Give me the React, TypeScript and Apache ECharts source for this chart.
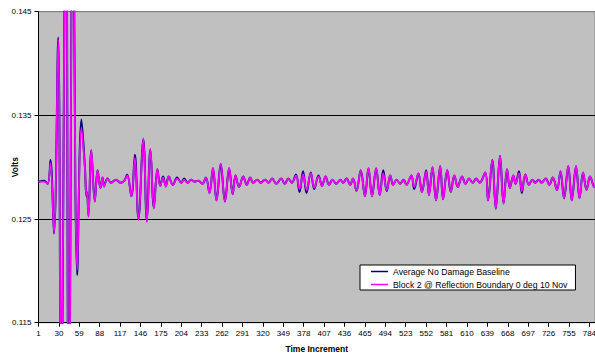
import React, { useEffect, useRef } from 'react';
import * as echarts from 'echarts';

// sample index (0-based) of the extrema
const sampleIndex = [
  0, 8, 13, 17, 22, 28, 32, 39, 43, 49, 55, 61, 66, 68, 69, 71, 75, 80, 84, 88,
  91, 93, 98, 103, 110, 117, 122, 126, 132, 137, 142, 149, 154, 159, 164, 169, 173, 177, 181, 185,
  191, 197, 203, 207, 212, 217, 222, 227, 233, 238, 243, 248, 253, 259, 265, 271, 276, 280, 285, 291,
  296, 301, 305, 311, 316, 322, 327, 332, 338, 345, 350, 355, 360, 366, 371, 376, 381, 387, 392, 398,
  403, 408, 413, 418, 423, 429, 433, 438, 443, 447, 452, 458, 464, 469, 474, 480, 485, 490, 495, 500,
  504, 509, 514, 519, 523, 530, 534, 540, 545, 551, 555, 560, 565, 571, 575, 581, 586, 591, 596, 602,
  607, 612, 617, 622, 627, 635, 639, 645, 650, 656, 661, 666, 670, 675, 678, 683, 687, 692, 697, 702,
  706, 711, 715, 721, 726, 731, 737, 742, 747, 753, 758, 764, 769, 774, 779, 784, 790, 791,
];

const baseline = [
  0.1286, 0.1287, 0.1284, 0.1307, 0.1236, 0.1425, 0.105, 0.16, 0.1, 0.156, 0.1196, 0.1346, 0.13, 0.1272, 0.1276, 0.1253, 0.1316, 0.1267, 0.1297, 0.128,
  0.129, 0.1282, 0.1289, 0.1285, 0.1288, 0.1285, 0.1287, 0.1293, 0.1272, 0.1312, 0.125, 0.1327, 0.1248, 0.1317, 0.1261, 0.1298, 0.1282, 0.1291, 0.1282, 0.1291,
  0.1283, 0.129, 0.1285, 0.1289, 0.1285, 0.1288, 0.1286, 0.1287, 0.1284, 0.129, 0.1275, 0.1299, 0.1268, 0.1303, 0.1267, 0.1299, 0.1274, 0.1292, 0.1281, 0.1291,
  0.1283, 0.129, 0.1285, 0.1288, 0.1285, 0.1288, 0.1285, 0.1289, 0.1284, 0.1289, 0.1284, 0.1289, 0.1285, 0.1293, 0.1276, 0.1296, 0.1275, 0.1295, 0.1279, 0.1292,
  0.1282, 0.1291, 0.1283, 0.1288, 0.1284, 0.1288, 0.1285, 0.1289, 0.1283, 0.1289, 0.1277, 0.1297, 0.1272, 0.1299, 0.1272, 0.1299, 0.1273, 0.1297, 0.1277, 0.1292,
  0.1283, 0.1288, 0.1284, 0.1288, 0.1283, 0.1292, 0.1279, 0.1294, 0.1276, 0.1297, 0.1273, 0.13, 0.1268, 0.1301, 0.1269, 0.1297, 0.1276, 0.1292, 0.1281, 0.1291,
  0.1284, 0.1289, 0.1285, 0.1289, 0.1285, 0.1295, 0.1268, 0.1307, 0.126, 0.1311, 0.1265, 0.1298, 0.128, 0.1292, 0.1284, 0.1296, 0.1275, 0.1293, 0.1283, 0.1288,
  0.1285, 0.1288, 0.1285, 0.1289, 0.1283, 0.129, 0.1278, 0.1296, 0.127, 0.1301, 0.1268, 0.1301, 0.127, 0.1295, 0.1278, 0.1291, 0.1281, 0.1283,
];

const block2 = [
  0.1286, 0.1286, 0.1284, 0.1304, 0.1237, 0.1423, 0.105, 0.16, 0.1, 0.156, 0.1201, 0.1338, 0.1299, 0.1273, 0.1276, 0.1252, 0.1317, 0.1267, 0.1297, 0.128,
  0.129, 0.1281, 0.1289, 0.1285, 0.1288, 0.1285, 0.1287, 0.1292, 0.1272, 0.1309, 0.1249, 0.1328, 0.1247, 0.1318, 0.126, 0.1298, 0.1282, 0.129, 0.1281, 0.1291,
  0.1283, 0.1289, 0.1285, 0.1288, 0.1285, 0.1288, 0.1286, 0.1287, 0.1284, 0.129, 0.1275, 0.1299, 0.1268, 0.1303, 0.1267, 0.1299, 0.1274, 0.1292, 0.1281, 0.1291,
  0.1283, 0.129, 0.1285, 0.1288, 0.1285, 0.1288, 0.1285, 0.1289, 0.1284, 0.1289, 0.1284, 0.1289, 0.1285, 0.1292, 0.1279, 0.1293, 0.1278, 0.1294, 0.128, 0.1291,
  0.1282, 0.1291, 0.1283, 0.1288, 0.1284, 0.1288, 0.1285, 0.1289, 0.1283, 0.1289, 0.1277, 0.1297, 0.1272, 0.1299, 0.1272, 0.1299, 0.1273, 0.1294, 0.1278, 0.1292,
  0.1283, 0.1288, 0.1284, 0.1288, 0.1283, 0.1292, 0.1281, 0.1294, 0.1276, 0.1296, 0.1273, 0.13, 0.1268, 0.1301, 0.1269, 0.1297, 0.1276, 0.1292, 0.1281, 0.1291,
  0.1284, 0.1289, 0.1285, 0.1289, 0.1285, 0.1295, 0.1268, 0.1307, 0.126, 0.1311, 0.1265, 0.1298, 0.128, 0.1292, 0.1284, 0.1294, 0.1277, 0.1293, 0.1283, 0.1288,
  0.1285, 0.1288, 0.1285, 0.1289, 0.1283, 0.129, 0.1278, 0.1296, 0.127, 0.1301, 0.1268, 0.1301, 0.127, 0.1295, 0.1278, 0.1291, 0.1281, 0.1283,
];

const seriesNames = ['Average No Damage Baseline', 'Block 2 @ Reflection Boundary 0 deg 10 Nov'];
const seriesColors = ['#000080', '#FF00FF'];
const yMin = 0.115;
const yMax = 0.145;
const yStep = 0.01;
const xStep = 29;
const lastIndex = 791;

const FONT = '"Liberation Sans", Arial, Helvetica, sans-serif';

export default function App() {
  const ref = useRef<HTMLDivElement>(null);
  useEffect(() => {
    if (!ref.current) return;
    const chart = echarts.init(ref.current, null, { renderer: 'svg' });
    const toPairs = (vals: number[]) => sampleIndex.map((x, i) => [x, vals[i]]);
    chart.setOption({
      animation: false,
      backgroundColor: '#ffffff',
      textStyle: { fontFamily: FONT, color: '#000' },
      grid: {
        left: 38.5,
        right: 0,
        top: 11.7,
        bottom: 35.3,
        containLabel: false,
        outerBoundsMode: 'none',
        show: true,
        backgroundColor: '#C0C0C0',
        borderColor: '#808080',
        borderWidth: 1,
      },
      xAxis: {
        type: 'value',
        min: 0,
        max: lastIndex,
        interval: xStep,
        name: 'Time Increment',
        nameLocation: 'middle',
        nameGap: 22,
        nameMoveOverlap: false,
        nameTextStyle: { fontFamily: FONT, fontWeight: 'bold', fontSize: 8.5, color: '#000' },
        axisLine: { onZero: false, lineStyle: { color: '#000', width: 1 } },
        axisTick: { show: true, length: 4, lineStyle: { color: '#000' } },
        axisLabel: {
          color: '#000',
          fontFamily: FONT,
          fontSize: 8,
          margin: 7,
          showMaxLabel: false,
          formatter: (v: number) => String(Math.round(v) + 1),
        },
        splitLine: { show: false },
      },
      yAxis: {
        type: 'value',
        min: yMin,
        max: yMax,
        interval: yStep,
        name: 'Volts',
        nameLocation: 'middle',
        nameGap: 19,
        nameMoveOverlap: false,
        nameTextStyle: { fontFamily: FONT, fontWeight: 'bold', fontSize: 8.5, color: '#000' },
        axisLine: { show: true, lineStyle: { color: '#000', width: 1 } },
        axisTick: { show: true, length: 4, lineStyle: { color: '#000' } },
        axisLabel: {
          color: '#000',
          fontFamily: FONT,
          fontSize: 8,
          margin: 7,
          formatter: (v: number) => v.toFixed(3),
        },
        splitLine: { show: true, lineStyle: { color: ['#000', '#000', '#000', '#808080'], width: 1 } },
      },
      legend: {
        orient: 'vertical',
        left: 360,
        top: 265,
        backgroundColor: '#ffffff',
        borderColor: '#000',
        borderWidth: 1,
        padding: [2, 8, 1, 11],
        itemGap: 4,
        itemWidth: 17,
        itemHeight: 1.5,
        icon: 'rect',
        selectedMode: false,
        textStyle: { fontFamily: FONT, fontSize: 8.7, color: '#000' },
        data: seriesNames,
      },
      series: [
        {
          name: seriesNames[0],
          type: 'line',
          data: toPairs(baseline),
          smooth: 0.4,
          showSymbol: false,
          clip: true,
          lineStyle: { color: seriesColors[0], width: 2 },
          itemStyle: { color: seriesColors[0] },
        },
        {
          name: seriesNames[1],
          type: 'line',
          data: toPairs(block2),
          smooth: 0.4,
          showSymbol: false,
          clip: true,
          lineStyle: { color: seriesColors[1], width: 1.75 },
          itemStyle: { color: seriesColors[1] },
        },
      ],
    });
    return () => chart.dispose();
  }, []);
  return (
    <div
      ref={ref}
      style={{ position: 'fixed', left: 0, top: 0, width: 595, height: 358 }}
    />
  );
}
